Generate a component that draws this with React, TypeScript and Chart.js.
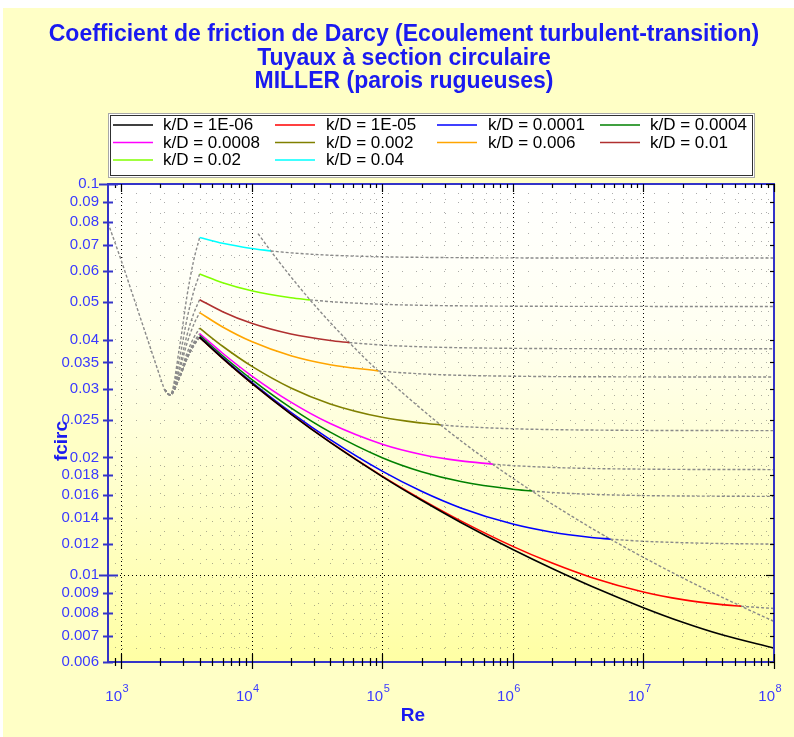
import React, { useEffect, useRef } from 'react';
import { Chart, registerables } from 'chart.js';

Chart.register(...registerables);

// ---------------- data ----------------
const TITLE_LINES = [
  'Coefficient de friction de Darcy (Ecoulement turbulent-transition)',
  'Tuyaux à section circulaire',
  'MILLER (parois rugueuses)',
];
const X_TITLE = 'Re';
const Y_TITLE = 'fcirc';

const KD_LABELS = [
  'k/D = 1E-06', 'k/D = 1E-05', 'k/D = 0.0001', 'k/D = 0.0004',
  'k/D = 0.0008', 'k/D = 0.002', 'k/D = 0.006', 'k/D = 0.01',
  'k/D = 0.02', 'k/D = 0.04',
];
const KD_COLORS = [
  '#000000', '#ff0000', '#0000ff', '#008000',
  '#ff00ff', '#808000', '#ffa500', '#b03030',
  '#80ff00', '#00ffff',
];

// turbulent branch, Re values
const RE_GRID = [4000, 6000, 1e4, 2e4, 4e4, 1e5, 2e5, 4e5, 1e6, 2e6, 4e6, 1e7, 2e7, 4e7, 1e8];
const F_1E06 = [0.04055, 0.03584, 0.03098, 0.02582, 0.02185, 0.01787, 0.01554, 0.01364, 0.01163, 0.0104, 0.00937, 0.00826, 0.00758, 0.00704, 0.00651];
const F_1E05 = [0.04056, 0.03585, 0.03099, 0.02584, 0.02188, 0.01792, 0.01563, 0.01377, 0.01185, 0.01074, 0.00987, 0.00906, 0.00866, 0.00841, 0.00822];
const F_1E04 = [0.04066, 0.03597, 0.03115, 0.02606, 0.02221, 0.01845, 0.01639, 0.01486, 0.01351, 0.01288, 0.01249, 0.01221, 0.01211, 0.01205, 0.01201];
const F_4E04 = [0.04101, 0.03639, 0.03167, 0.02678, 0.02321, 0.01997, 0.01839, 0.01736, 0.01658, 0.01627, 0.0161, 0.01598, 0.01594, 0.01592, 0.0159];
const F_8E04 = [0.04147, 0.03693, 0.03234, 0.02769, 0.02441, 0.02162, 0.02036, 0.0196, 0.01906, 0.01886, 0.01874, 0.01867, 0.01864, 0.01863, 0.01862];
const F_2E03 = [0.0428, 0.03848, 0.03423, 0.0301, 0.02741, 0.02533, 0.02449, 0.024, 0.02368, 0.02356, 0.0235, 0.02345, 0.02344, 0.02343, 0.02342];
const F_6E03 = [0.0469, 0.0431, 0.03956, 0.03639, 0.03452, 0.0332, 0.03271, 0.03243, 0.03226, 0.03219, 0.03216, 0.03213, 0.03212, 0.03212, 0.03212];
const F_1E02 = [0.05061, 0.04717, 0.04404, 0.04135, 0.0398, 0.03875, 0.03836, 0.03815, 0.03801, 0.03796, 0.03794, 0.03792, 0.03791, 0.03791, 0.03791];
const F_2E02 = [0.05887, 0.05594, 0.05336, 0.05122, 0.05004, 0.04926, 0.04897, 0.04882, 0.04871, 0.04868, 0.04866, 0.04865, 0.04864, 0.04864, 0.04864];
const F_4E02 = [0.07298, 0.07052, 0.0684, 0.06669, 0.06576, 0.06515, 0.06493, 0.06481, 0.06473, 0.0647, 0.06469, 0.06468, 0.06467, 0.06467, 0.06467];
const F_SERIES = [F_1E06, F_1E05, F_1E04, F_4E04, F_8E04, F_2E03, F_6E03, F_1E02, F_2E02, F_4E02];

// where each curve meets the rough-zone limit (solid -> dashed)
const ROUGH_RE: (number | null)[] = [null, 5.6e7, 5.6e6, 1.4e6, 7e5, 2.8e5, 93333, 56000, 28000, 14000];
const ROUGH_F: (number | null)[] = [null, 0.00833, 0.01236, 0.01641, 0.01923, 0.02422, 0.03327, 0.03932, 0.05056, 0.06744];

// rough-zone limit line
const LIMIT_RE = [11200, 14000, 28000, 56000, 93333, 280000, 700000, 1.4e6, 2.5e6, 5.6e6, 2e7, 5.6e7, 1e8];
const LIMIT_F = [0.07471, 0.06744, 0.05056, 0.03932, 0.03327, 0.02422, 0.01923, 0.01641, 0.01451, 0.01236, 0.00984, 0.00833, 0.00762];

// laminar branch
const LAM_RE = [795, 1000, 1250, 1600, 2000, 2150];
const LAM_F = [0.0795, 0.064, 0.0512, 0.04, 0.032, 0.0298];

// transition branch
const TRANS_RE = [2150, 2380, 2800, 3200, 3600, 4000];
const TR_1E06 = [0.0298, 0.0289, 0.03191, 0.03572, 0.03859, 0.04055];
const TR_1E05 = [0.0298, 0.0289, 0.03191, 0.03572, 0.0386, 0.04056];
const TR_1E04 = [0.0298, 0.0289, 0.03194, 0.03578, 0.03868, 0.04066];
const TR_4E04 = [0.0298, 0.0289, 0.03202, 0.03597, 0.03897, 0.04101];
const TR_8E04 = [0.0298, 0.0289, 0.03213, 0.03623, 0.03934, 0.04147];
const TR_2E03 = [0.0298, 0.0289, 0.03243, 0.03696, 0.04041, 0.0428];
const TR_6E03 = [0.0298, 0.0289, 0.03333, 0.03916, 0.04369, 0.0469];
const TR_1E02 = [0.0298, 0.0289, 0.0341, 0.04108, 0.04664, 0.05061];
const TR_2E02 = [0.0298, 0.0289, 0.03568, 0.04519, 0.05307, 0.05887];
const TR_4E02 = [0.0298, 0.0289, 0.03806, 0.05172, 0.06377, 0.07298];
const TR_SERIES = [TR_1E06, TR_1E05, TR_1E04, TR_4E04, TR_8E04, TR_2E03, TR_6E03, TR_1E02, TR_2E02, TR_4E02];

// axes
const X_MIN = 795;
const X_MAX = 1e8;
const X_TICKS = [1e3, 1e4, 1e5, 1e6, 1e7, 1e8];
const X_TICK_BASE = '10';
const X_TICK_EXP = ['3', '4', '5', '6', '7', '8'];
const Y_MIN = 0.006;
const Y_MAX = 0.1;
const Y_TICKS = [0.006, 0.007, 0.008, 0.009, 0.01, 0.012, 0.014, 0.016, 0.018, 0.02, 0.025, 0.03, 0.035, 0.04, 0.05, 0.06, 0.07, 0.08, 0.09, 0.1];
const Y_TICK_LABELS = ['0.006', '0.007', '0.008', '0.009', '0.01', '0.012', '0.014', '0.016', '0.018', '0.02', '0.025', '0.03', '0.035', '0.04', '0.05', '0.06', '0.07', '0.08', '0.09', '0.1'];

// ---------------- style ----------------
const FONT = '"Liberation Sans", Arial, Helvetica, sans-serif';
const BLUE_TEXT = '#1a1af0';
const TICK_BLUE = '#3a3aff';
const AXIS_BLUE = '#3434c8';
const GREY = '#8a8a8a';
const PANEL_BG = '#ffffc6';

type P = { x: number; y: number };
const pts = (xs: number[], ys: number[]): P[] => xs.map((x, i) => ({ x, y: ys[i] }));

function buildDatasets() {
  const solid: any[] = [];
  const dashed: any[] = [];
  F_SERIES.forEach((fs, i) => {
    const all = pts(RE_GRID, fs);
    const rb = ROUGH_RE[i];
    const fb = ROUGH_F[i];
    let s: P[] = all;
    let d: P[] = [];
    if (rb != null && fb != null) {
      s = all.filter((p) => p.x < rb).concat([{ x: rb, y: fb }]);
      d = [{ x: rb, y: fb }].concat(all.filter((p) => p.x > rb));
    }
    solid.push({ label: KD_LABELS[i], data: s, borderColor: KD_COLORS[i], borderWidth: 1.6 });
    if (d.length) {
      dashed.push({ label: KD_LABELS[i] + ' (rugueux)', data: d, borderColor: GREY, borderWidth: 1.4, borderDash: [3, 2] });
    }
    dashed.push({ label: KD_LABELS[i] + ' (transition)', data: pts(TRANS_RE, TR_SERIES[i]), borderColor: GREY, borderWidth: 1.4, borderDash: [3, 2] });
  });
  dashed.push({ label: 'laminaire', data: pts(LAM_RE, LAM_F), borderColor: GREY, borderWidth: 1.4, borderDash: [3, 2] });
  dashed.push({ label: 'limite', data: pts(LIMIT_RE, LIMIT_F), borderColor: GREY, borderWidth: 1.4, borderDash: [3, 2] });
  return solid.concat(dashed);
}

const isPow10 = (v: number) => Math.abs(Math.log10(v) - Math.round(Math.log10(v))) < 1e-9;

function xGridValues(): number[] {
  const out: number[] = [];
  for (let e = 2; e <= 8; e++) {
    for (let m = 1; m <= 9; m++) {
      const v = m * Math.pow(10, e);
      if (v > X_MIN * 1.01 && v <= X_MAX) out.push(v);
    }
  }
  return out;
}
function yGridValues(): number[] {
  const out: number[] = [];
  for (let i = 0; i < Y_TICKS.length; i++) {
    out.push(Y_TICKS[i]);
    if (i + 1 < Y_TICKS.length) out.push((Y_TICKS[i] + Y_TICKS[i + 1]) / 2);
  }
  return out;
}

const decor = {
  id: 'decor',
  beforeDraw(chart: any) {
    const { ctx, width, height, chartArea: a } = chart;
    ctx.save();
    ctx.fillStyle = '#ffffff';
    ctx.fillRect(0, 0, width, height);
    ctx.fillStyle = PANEL_BG;
    ctx.fillRect(3, 8, width - 3, height - 8);
    const g = ctx.createLinearGradient(0, a.top, 0, a.bottom);
    g.addColorStop(0, '#ffffff');
    g.addColorStop(0.3, '#fffff2');
    g.addColorStop(1, '#ffffa4');
    ctx.fillStyle = g;
    ctx.fillRect(a.left, a.top, a.right - a.left, a.bottom - a.top);
    // title
    ctx.fillStyle = BLUE_TEXT;
    ctx.font = `bold 23px ${FONT}`;
    ctx.textAlign = 'center';
    ctx.textBaseline = 'middle';
    TITLE_LINES.forEach((t, i) => ctx.fillText(t, 404, 35 + i * 23.5));
    ctx.restore();
  },
  beforeDatasetsDraw(chart: any) {
    const { ctx, chartArea: a, scales } = chart;
    const x = scales.x;
    const y = scales.y;
    ctx.save();
    ctx.beginPath();
    ctx.rect(a.left, a.top, a.right - a.left, a.bottom - a.top);
    ctx.clip();
    ctx.lineWidth = 1;
    for (const v of xGridValues()) {
      const px = Math.round(x.getPixelForValue(v)) + 0.5;
      const major = isPow10(v);
      ctx.strokeStyle = major ? '#000000' : 'rgba(90,90,90,0.5)';
      ctx.setLineDash(major ? [1, 3] : [1, 13]);
      ctx.beginPath();
      ctx.moveTo(px, a.bottom);
      ctx.lineTo(px, a.top);
      ctx.stroke();
    }
    for (const v of yGridValues()) {
      const py = Math.round(y.getPixelForValue(v)) + 0.5;
      const major = isPow10(v);
      ctx.strokeStyle = major ? '#000000' : 'rgba(90,90,90,0.5)';
      ctx.setLineDash(major ? [1, 3] : [1, 13]);
      ctx.beginPath();
      ctx.moveTo(a.left, py);
      ctx.lineTo(a.right, py);
      ctx.stroke();
    }
    ctx.restore();
  },
  afterDatasetsDraw(chart: any) {
    const { ctx, chartArea: a, scales } = chart;
    const x = scales.x;
    const y = scales.y;
    ctx.save();
    ctx.strokeStyle = AXIS_BLUE;
    ctx.lineWidth = 2;
    ctx.strokeRect(a.left, a.top, a.right - a.left, a.bottom - a.top);
    ctx.strokeStyle = '#000000';
    ctx.lineWidth = 1.2;
    for (const v of xGridValues()) {
      const px = Math.round(x.getPixelForValue(v)) + 0.5;
      const major = isPow10(v);
      ctx.beginPath();
      ctx.moveTo(px, a.bottom - (major ? 8 : 4));
      ctx.lineTo(px, a.bottom + (major ? 7 : 4));
      ctx.moveTo(px, a.top);
      ctx.lineTo(px, a.top + (major ? 8 : 4));
      ctx.stroke();
    }
    for (const v of Y_TICKS) {
      const py = Math.round(y.getPixelForValue(v)) + 0.5;
      const major = isPow10(v);
      ctx.strokeStyle = AXIS_BLUE;
      ctx.lineWidth = 2;
      ctx.beginPath();
      ctx.moveTo(a.left - (major ? 9 : 5), py);
      ctx.lineTo(a.left + (major ? 10 : 5), py);
      ctx.stroke();
      ctx.strokeStyle = '#000000';
      ctx.lineWidth = 1.2;
      ctx.beginPath();
      ctx.moveTo(a.right, py);
      ctx.lineTo(a.right - (major ? 8 : 4), py);
      ctx.stroke();
    }
    // x tick labels: 10 with raised exponent
    ctx.fillStyle = TICK_BLUE;
    ctx.textBaseline = 'alphabetic';
    X_TICKS.forEach((v, i) => {
      const px = x.getPixelForValue(v);
      ctx.font = `15px ${FONT}`;
      ctx.textAlign = 'right';
      ctx.fillText(X_TICK_BASE, px + 1, a.bottom + 39);
      ctx.font = `11px ${FONT}`;
      ctx.textAlign = 'left';
      ctx.fillText(X_TICK_EXP[i], px + 1.5, a.bottom + 30);
    });
    ctx.restore();
  },
  afterDraw(chart: any) {
    const { ctx, chartArea: a } = chart;
    ctx.save();
    const lx = 108, ly = 113, lw = 647, lh = 65;
    ctx.fillStyle = '#ffffff';
    ctx.fillRect(lx, ly, lw, lh);
    ctx.strokeStyle = '#a8a8a8';
    ctx.lineWidth = 1;
    ctx.strokeRect(lx + 0.5, ly + 0.5, lw - 1, lh - 1);
    ctx.strokeStyle = '#303030';
    ctx.strokeRect(lx + 2.5, ly + 2.5, lw - 5, lh - 5);
    const colLine = [113, 275, 437, 600];
    const colText = [163, 326, 488, 650];
    const rowY = [124.5, 142, 159.5];
    ctx.font = `17px ${FONT}`;
    ctx.textBaseline = 'middle';
    ctx.textAlign = 'left';
    KD_LABELS.forEach((lab, i) => {
      const c = i % 4;
      const r = Math.floor(i / 4);
      ctx.strokeStyle = KD_COLORS[i];
      ctx.lineWidth = 1.6;
      ctx.beginPath();
      ctx.moveTo(colLine[c], rowY[r] + 0.5);
      ctx.lineTo(colLine[c] + 40, rowY[r] + 0.5);
      ctx.stroke();
      ctx.fillStyle = '#000000';
      ctx.fillText(lab, colText[c], rowY[r] + 1);
    });
    ctx.fillStyle = BLUE_TEXT;
    ctx.font = `bold 19px ${FONT}`;
    ctx.textAlign = 'center';
    ctx.textBaseline = 'middle';
    ctx.fillText(X_TITLE, 413, a.bottom + 54);
    ctx.translate(a.left - 46, a.bottom - 221);
    ctx.rotate(-Math.PI / 2);
    ctx.fillText(Y_TITLE, 0, 0);
    ctx.restore();
  },
};

export default function App() {
  const ref = useRef<HTMLCanvasElement>(null);
  useEffect(() => {
    if (!ref.current) return;
    const chart = new Chart(ref.current, {
      type: 'line',
      data: { datasets: buildDatasets() },
      options: {
        responsive: false,
        devicePixelRatio: 1,
        animation: false,
        events: [],
        layout: { padding: { left: 8, right: 20, top: 184, bottom: 0 } },
        elements: {
          point: { radius: 0 },
          line: { cubicInterpolationMode: 'monotone', fill: false },
        },
        plugins: {
          legend: { display: false },
          tooltip: { enabled: false },
          title: { display: false },
        },
        scales: {
          x: {
            type: 'logarithmic',
            min: X_MIN,
            max: X_MAX,
            afterBuildTicks: (s: any) => {
              s.ticks = X_TICKS.map((v) => ({ value: v }));
              s.min = X_MIN;
              s.max = X_MAX;
            },
            afterFit: (s: any) => {
              s.height = 75;
              s.paddingLeft = 0;
              s.paddingRight = 0;
            },
            grid: { display: false, drawTicks: false },
            border: { display: false },
            ticks: { display: false, autoSkip: false, maxRotation: 0 },
          },
          y: {
            type: 'logarithmic',
            min: Y_MIN,
            max: Y_MAX,
            afterBuildTicks: (s: any) => {
              s.ticks = Y_TICKS.map((v) => ({ value: v }));
              s.min = Y_MIN;
              s.max = Y_MAX;
            },
            afterFit: (s: any) => {
              s.width = 100;
              s.paddingTop = 0;
              s.paddingBottom = 0;
            },
            grid: { display: false, drawTicks: false },
            border: { display: false },
            ticks: {
              autoSkip: false,
              padding: 9,
              color: TICK_BLUE,
              font: { family: FONT, size: 15 },
              callback: (v: any) => {
                const i = Y_TICKS.indexOf(Number(v));
                return i >= 0 ? Y_TICK_LABELS[i] : '';
              },
            },
          },
        },
      } as any,
      plugins: [decor],
    });
    return () => chart.destroy();
  }, []);
  return (
    <canvas
      ref={ref}
      width={794}
      height={737}
      style={{ position: 'absolute', left: 0, top: 0, width: 794, height: 737, display: 'block' }}
    />
  );
}
